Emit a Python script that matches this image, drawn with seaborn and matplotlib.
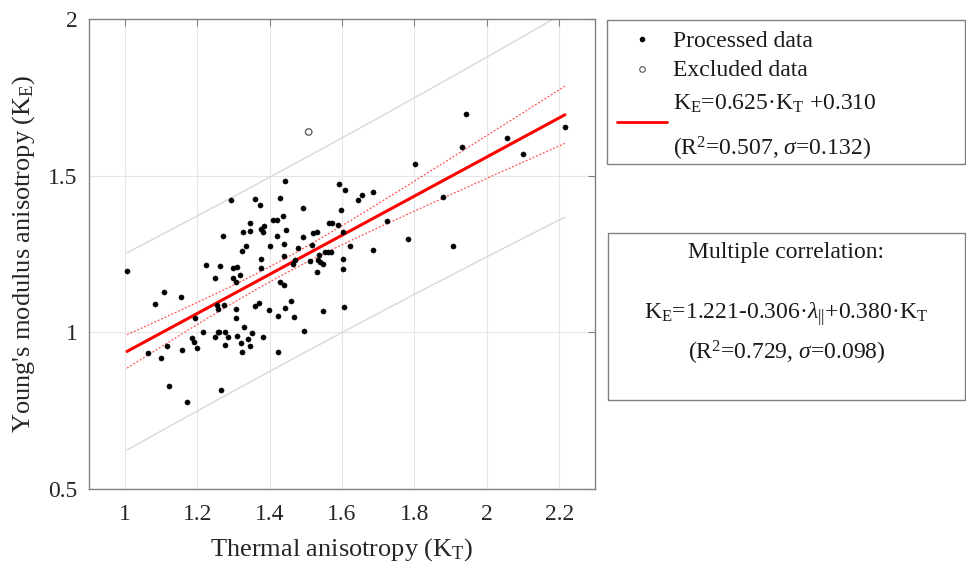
import numpy as np
import pandas as pd
import matplotlib
matplotlib.use("Agg")
import matplotlib.pyplot as plt
from matplotlib.lines import Line2D
from matplotlib.patches import Rectangle
import seaborn as sns

# ---------------- data ----------------
kt_processed = [1.292, 1.270, 1.326, 1.324, 1.006, 1.223, 1.263, 1.298, 1.310, 1.248,
                1.299, 1.318, 1.443, 1.591, 1.609, 1.359, 1.373, 1.429, 1.645, 1.656,
                1.492, 1.596, 1.410, 1.419, 1.438, 1.346, 1.376, 1.384, 1.382, 1.445,
                1.420, 1.492, 1.521, 1.532, 1.563, 1.571, 1.588, 1.603, 1.336, 1.400,
                1.440, 1.478, 1.517, 1.622, 1.439, 1.377, 1.536, 1.554, 1.561, 1.570,
                1.469, 1.465, 1.512, 1.534, 1.538, 1.547, 1.604, 1.377, 1.532, 1.602,
                1.347, 1.306, 1.108, 1.154, 1.083, 1.255, 1.257, 1.274, 1.307, 1.194,
                1.308, 1.330, 1.215, 1.256, 1.261, 1.276, 1.186, 1.191, 1.249, 1.285,
                1.309, 1.200, 1.116, 1.159, 1.276, 1.320, 1.323, 1.065, 1.100, 1.122,
                1.267, 1.171, 1.428, 1.440, 1.359, 1.371, 1.399, 1.459, 1.442, 1.424,
                1.468, 1.548, 1.605, 1.495, 1.352, 1.383, 1.340, 1.346, 1.423, 1.942,
                2.216, 2.055, 2.101, 1.931, 1.801, 1.685, 1.878, 1.725, 1.782, 1.687,
                1.908]
ke_processed = [1.422, 1.309, 1.319, 1.259, 1.197, 1.216, 1.212, 1.205, 1.207, 1.173,
                1.173, 1.183, 1.482, 1.473, 1.456, 1.426, 1.408, 1.429, 1.424, 1.439,
                1.398, 1.390, 1.360, 1.360, 1.372, 1.349, 1.331, 1.341, 1.320, 1.326,
                1.307, 1.303, 1.316, 1.319, 1.349, 1.349, 1.343, 1.319, 1.275, 1.275,
                1.281, 1.269, 1.278, 1.277, 1.244, 1.235, 1.248, 1.255, 1.255, 1.258,
                1.231, 1.219, 1.229, 1.231, 1.223, 1.219, 1.234, 1.205, 1.193, 1.203,
                1.322, 1.161, 1.128, 1.114, 1.089, 1.087, 1.074, 1.086, 1.074, 1.047,
                1.046, 1.018, 1.000, 1.000, 1.000, 1.000, 0.983, 0.969, 0.985, 0.984,
                0.987, 0.951, 0.955, 0.944, 0.958, 0.966, 0.938, 0.934, 0.919, 0.827,
                0.817, 0.777, 1.161, 1.150, 1.084, 1.093, 1.072, 1.100, 1.079, 1.053,
                1.049, 1.068, 1.082, 1.005, 0.999, 0.985, 0.980, 0.956, 0.936, 1.697,
                1.657, 1.620, 1.569, 1.591, 1.539, 1.449, 1.432, 1.355, 1.298, 1.263,
                1.277]
kt_excluded = [1.508]
ke_excluded = [1.640]

fit_slope = 0.625
fit_intercept = 0.310
fit_sigma = 0.132
ci_factor = 1.99      # multiplier for confidence band of the fit
pi_factor = 2.34      # multiplier for prediction band

x_ticks = [1, 1.2, 1.4, 1.6, 1.8, 2, 2.2]
x_ticklabels = ["1", "1.2", "1.4", "1.6", "1.8", "2", "2.2"]
y_ticks = [0.5, 1, 1.5, 2]
y_ticklabels = ["0.5", "1", "1.5", "2"]

# ---------------- style ----------------
sns.set_style("white")
plt.rcParams["font.family"] = ["Liberation Serif", "DejaVu Serif"]
plt.rcParams["mathtext.fontset"] = "custom"
plt.rcParams["mathtext.rm"] = "Liberation Serif"
plt.rcParams["mathtext.it"] = "Liberation Serif:italic"
plt.rcParams["mathtext.bf"] = "Liberation Serif:bold"

fig = plt.figure(figsize=(9.66, 5.68), dpi=100)
ax = fig.add_axes([0.0918, 0.1396, 0.6163 - 0.0918, 0.966 - 0.1396])

df_p = pd.DataFrame({"KT": kt_processed, "KE": ke_processed})
df_e = pd.DataFrame({"KT": kt_excluded, "KE": ke_excluded})

# regression line and bands
xs = np.linspace(min(kt_processed), max(kt_processed), 200)
xarr = np.array(kt_processed)
n = len(xarr)
xm = xarr.mean()
sxx = ((xarr - xm) ** 2).sum()
yfit = fit_slope * xs + fit_intercept
ci = ci_factor * fit_sigma * np.sqrt(1.0 / n + (xs - xm) ** 2 / sxx)
pi = pi_factor * fit_sigma * np.sqrt(1.0 + 1.0 / n + (xs - xm) ** 2 / sxx)
df_l = pd.DataFrame({"KT": xs, "fit": yfit, "cu": yfit + ci, "cl": yfit - ci,
                     "pu": yfit + pi, "pl": yfit - pi})

grey_band = "#dcd8d0"
sns.lineplot(data=df_l, x="KT", y="pu", ax=ax, color=grey_band, lw=1.0)
sns.lineplot(data=df_l, x="KT", y="pl", ax=ax, color=grey_band, lw=1.0)
sns.lineplot(data=df_l, x="KT", y="cu", ax=ax, color="#ff5050", lw=0.9, linestyle=(0, (1.5, 1.5)))
sns.lineplot(data=df_l, x="KT", y="cl", ax=ax, color="#ff5050", lw=0.9, linestyle=(0, (1.5, 1.5)))
sns.lineplot(data=df_l, x="KT", y="fit", ax=ax, color="#ff0000", lw=2.2)

sns.scatterplot(data=df_p, x="KT", y="KE", ax=ax, color="black", s=14, edgecolor="black",
                linewidth=0.3, zorder=5)
sns.scatterplot(data=df_e, x="KT", y="KE", ax=ax, facecolor="none", edgecolor="#555555",
                s=22, linewidth=0.9, zorder=5)

ax.set_xlim(0.9, 2.3)
ax.set_ylim(0.5, 2.0)
ax.set_xticks(x_ticks)
ax.set_xticklabels(x_ticklabels)
ax.set_yticks(y_ticks)
ax.set_yticklabels(y_ticklabels)
ax.grid(True, color="#e6e6e6", lw=0.8)
ax.set_axisbelow(True)
for sp in ax.spines.values():
    sp.set_color("#808080")
    sp.set_linewidth(1.0)
ax.tick_params(direction="in", length=5, width=0.8, color="#808080", top=True, right=True,
               labelsize=17, labelcolor="#262626")
ax.tick_params(axis="x", pad=11)
ax.tick_params(axis="y", pad=8)
ax.set_xlabel("Thermal anisotropy (K$_\\mathrm{T}$)", fontsize=19, color="#262626", labelpad=8)
ax.set_ylabel("Young's modulus anisotropy (K$_\\mathrm{E}$)", fontsize=19, color="#262626", labelpad=8)

# ---------------- legend box 1 ----------------
fig.add_artist(Rectangle((0.628, 0.7107), 0.371, 0.254, transform=fig.transFigure,
                         fill=False, edgecolor="#808080", lw=1.0))
fig.add_artist(Line2D([0.6643], [0.931], marker="o", markersize=3, color="black",
                      transform=fig.transFigure))
fig.add_artist(Line2D([0.6643], [0.8785], marker="o", markersize=4, markerfacecolor="none",
                      markeredgecolor="#555555", markeredgewidth=0.8, transform=fig.transFigure))
fig.add_artist(Line2D([0.6384, 0.6902], [0.7847, 0.7847], color="#ff0000", lw=2.0,
                      transform=fig.transFigure))
tk = dict(fontsize=17, color="#1a1a1a", va="center", ha="left")
fig.text(0.6964, 0.927, "Processed data", **tk)
fig.text(0.6964, 0.875, "Excluded data", **tk)
fig.text(0.6964, 0.818, "K$_\\mathrm{E}$=0.625·K$_\\mathrm{T}$ +0.310", **tk)
fig.text(0.6964, 0.738, "(R$^\\mathrm{2}$=0.507, $\\sigma$=0.132)", **tk)

# ---------------- box 2 ----------------
fig.add_artist(Rectangle((0.6297, 0.2958), 0.3693, 0.2935, transform=fig.transFigure,
                         fill=False, edgecolor="#808080", lw=1.0))
tc = dict(fontsize=17, color="#1a1a1a", va="center", ha="center")
fig.text(0.814, 0.556, "Multiple correlation:", **tc)
fig.text(0.814, 0.447, "K$_\\mathrm{E}$=1.221-0.306·$\\lambda_{||}$+0.380·K$_\\mathrm{T}$", **tc)
fig.text(0.814, 0.378, "(R$^\\mathrm{2}$=0.729, $\\sigma$=0.098)", **tc)

fig.savefig("out.png", dpi=100)
